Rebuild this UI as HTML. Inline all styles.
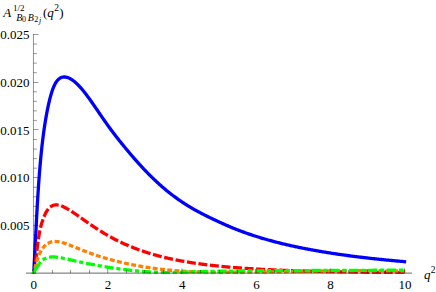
<!DOCTYPE html>
<html><head><meta charset="utf-8"><title>plot</title>
<style>html,body{margin:0;padding:0;background:#fff;font-family:"Liberation Serif",serif;}svg{display:block}</style>
</head><body>
<svg width="436" height="292" viewBox="0 0 436 292">
<rect width="436" height="292" fill="#fff"/>
<defs><clipPath id="c"><rect x="0" y="0" width="436" height="273.7"/></clipPath></defs>
<g clip-path="url(#c)" fill="none" stroke-width="3.3" stroke-linecap="square" stroke-linejoin="round">
<path d="M33.50,273.50 L33.50,273.50 L33.50,273.48 L33.51,273.46 L33.51,273.42 L33.52,273.38 L33.53,273.31 L33.54,273.24 L33.55,273.15 L33.56,273.04 L33.58,272.91 L33.59,272.76 L33.61,272.59 L33.63,272.40 L33.65,272.18 L33.67,271.94 L33.69,271.67 L33.72,271.38 L33.75,271.06 L33.77,270.71 L33.80,270.32 L33.83,269.91 L33.87,269.46 L33.90,268.98 L33.94,268.46 L33.97,267.91 L34.01,267.32 L34.05,266.69 L34.10,266.02 L34.14,265.32 L34.18,264.58 L34.23,263.80 L34.28,262.97 L34.33,262.11 L34.38,261.21 L34.43,260.27 L34.48,259.28 L34.54,258.26 L34.60,257.20 L34.65,256.09 L34.71,254.95 L34.78,253.77 L34.84,252.55 L34.90,251.29 L34.97,249.99 L35.04,248.66 L35.11,247.29 L35.18,245.88 L35.25,244.44 L35.32,242.97 L35.40,241.47 L35.47,239.93 L35.55,238.37 L35.63,236.78 L35.71,235.16 L35.80,233.51 L35.88,231.85 L35.97,230.15 L36.05,228.44 L36.14,226.71 L36.23,224.96 L36.33,223.19 L36.42,221.40 L36.51,219.60 L36.61,217.79 L36.71,215.97 L36.81,214.14 L36.91,212.30 L37.01,210.45 L37.12,208.60 L37.22,206.75 L37.33,204.89 L37.44,203.03 L37.55,201.18 L37.66,199.32 L37.77,197.47 L37.89,195.62 L38.00,193.77 L38.12,191.93 L38.24,190.10 L38.36,188.28 L38.48,186.47 L38.61,184.67 L38.73,182.87 L38.86,181.09 L38.99,179.33 L39.12,177.57 L39.25,175.83 L39.38,174.10 L39.51,172.39 L39.65,170.69 L39.79,169.01 L39.93,167.35 L40.07,165.70 L40.21,164.06 L40.35,162.44 L40.50,160.84 L40.64,159.25 L40.79,157.68 L40.94,156.13 L41.09,154.59 L41.25,153.06 L41.40,151.56 L41.56,150.06 L41.71,148.59 L41.87,147.12 L42.03,145.68 L42.19,144.25 L42.36,142.84 L42.52,141.44 L42.69,140.06 L42.86,138.70 L43.02,137.35 L43.20,136.02 L43.37,134.70 L43.54,133.40 L43.72,132.11 L43.89,130.84 L44.07,129.58 L44.25,128.34 L44.43,127.11 L44.62,125.89 L44.80,124.69 L44.99,123.50 L45.18,122.32 L45.36,121.16 L45.55,120.01 L45.75,118.87 L45.94,117.74 L46.14,116.62 L46.33,115.51 L46.53,114.42 L46.73,113.33 L46.93,112.26 L47.13,111.21 L47.34,110.16 L47.54,109.13 L47.75,108.11 L47.96,107.10 L48.17,106.11 L48.38,105.13 L48.60,104.16 L48.81,103.21 L49.03,102.27 L49.25,101.35 L49.46,100.44 L49.69,99.54 L49.91,98.66 L50.13,97.79 L50.36,96.94 L50.58,96.11 L50.81,95.29 L51.04,94.49 L51.27,93.70 L51.51,92.94 L51.74,92.19 L51.98,91.46 L52.22,90.75 L52.46,90.06 L52.70,89.38 L52.94,88.73 L53.18,88.10 L53.43,87.49 L53.67,86.90 L53.92,86.33 L54.17,85.77 L54.42,85.24 L54.68,84.73 L54.93,84.23 L55.19,83.76 L55.44,83.30 L55.70,82.86 L55.96,82.44 L56.23,82.03 L56.49,81.65 L56.75,81.28 L57.02,80.93 L57.29,80.59 L57.56,80.28 L57.83,79.98 L58.10,79.69 L58.38,79.42 L58.65,79.17 L58.93,78.93 L59.21,78.71 L59.49,78.50 L59.77,78.31 L60.05,78.13 L60.34,77.97 L60.62,77.82 L60.91,77.68 L61.20,77.55 L61.49,77.44 L61.78,77.34 L62.08,77.26 L62.37,77.18 L62.67,77.12 L62.97,77.07 L63.27,77.03 L63.57,77.00 L63.87,76.98 L64.18,76.97 L64.48,76.98 L64.79,76.99 L65.10,77.01 L65.41,77.04 L65.72,77.09 L66.04,77.14 L66.35,77.20 L66.67,77.28 L66.99,77.36 L67.31,77.45 L67.63,77.55 L67.95,77.66 L68.27,77.79 L68.60,77.92 L68.93,78.06 L69.26,78.21 L69.59,78.37 L69.92,78.53 L70.25,78.71 L70.59,78.90 L70.92,79.10 L71.26,79.30 L71.60,79.52 L71.94,79.74 L72.28,79.97 L72.63,80.21 L72.97,80.46 L73.32,80.72 L73.67,80.99 L74.02,81.26 L74.37,81.55 L74.72,81.84 L75.08,82.14 L75.43,82.45 L75.79,82.77 L76.15,83.10 L76.51,83.43 L76.87,83.78 L77.24,84.13 L77.60,84.49 L77.97,84.85 L78.34,85.23 L78.71,85.61 L79.08,86.00 L79.45,86.40 L79.82,86.80 L80.20,87.22 L80.58,87.64 L80.96,88.07 L81.34,88.50 L81.72,88.94 L82.10,89.39 L82.49,89.85 L82.87,90.32 L83.26,90.79 L83.65,91.27 L84.04,91.75 L84.44,92.24 L84.83,92.74 L85.23,93.25 L85.62,93.76 L86.02,94.28 L86.42,94.80 L86.82,95.34 L87.23,95.88 L87.63,96.42 L88.04,96.97 L88.44,97.53 L88.85,98.09 L89.26,98.66 L89.68,99.23 L90.09,99.81 L90.51,100.40 L90.92,100.99 L91.34,101.58 L91.76,102.18 L92.18,102.78 L92.61,103.39 L93.03,104.00 L93.46,104.62 L93.88,105.24 L94.31,105.86 L94.74,106.48 L95.18,107.11 L95.61,107.75 L96.04,108.38 L96.48,109.02 L96.92,109.66 L97.36,110.30 L97.80,110.95 L98.24,111.60 L98.69,112.25 L99.13,112.90 L99.58,113.55 L100.03,114.21 L100.48,114.86 L100.93,115.52 L101.38,116.18 L101.84,116.84 L102.29,117.50 L102.75,118.16 L103.21,118.82 L103.67,119.48 L104.13,120.15 L104.60,120.81 L105.06,121.47 L105.53,122.14 L106.00,122.80 L106.47,123.46 L106.94,124.12 L107.41,124.79 L107.89,125.45 L108.37,126.11 L108.84,126.77 L109.32,127.43 L109.80,128.08 L110.28,128.74 L110.77,129.40 L111.25,130.05 L111.74,130.71 L112.23,131.36 L112.72,132.01 L113.21,132.66 L113.70,133.31 L114.20,133.96 L114.69,134.61 L115.19,135.26 L115.69,135.90 L116.19,136.55 L116.69,137.19 L117.19,137.84 L117.70,138.48 L118.21,139.13 L118.71,139.77 L119.22,140.41 L119.73,141.05 L120.25,141.70 L120.76,142.34 L121.28,142.98 L121.79,143.62 L122.31,144.26 L122.83,144.90 L123.35,145.54 L123.88,146.18 L124.40,146.82 L124.93,147.46 L125.46,148.09 L125.98,148.73 L126.52,149.37 L127.05,150.01 L127.58,150.65 L128.12,151.28 L128.65,151.92 L129.19,152.56 L129.73,153.20 L130.27,153.83 L130.82,154.47 L131.36,155.11 L131.91,155.74 L132.45,156.38 L133.00,157.02 L133.55,157.65 L134.11,158.29 L134.66,158.92 L135.21,159.56 L135.77,160.19 L136.33,160.82 L136.89,161.45 L137.45,162.08 L138.01,162.71 L138.58,163.34 L139.14,163.97 L139.71,164.59 L140.28,165.22 L140.85,165.84 L141.42,166.46 L141.99,167.08 L142.57,167.70 L143.14,168.31 L143.72,168.93 L144.30,169.54 L144.88,170.15 L145.46,170.76 L146.05,171.37 L146.63,171.98 L147.22,172.58 L147.81,173.19 L148.40,173.79 L148.99,174.38 L149.58,174.98 L150.18,175.57 L150.77,176.16 L151.37,176.75 L151.97,177.34 L152.57,177.93 L153.17,178.51 L153.78,179.09 L154.38,179.67 L154.99,180.24 L155.60,180.81 L156.21,181.38 L156.82,181.95 L157.43,182.52 L158.05,183.08 L158.66,183.64 L159.28,184.19 L159.90,184.75 L160.52,185.30 L161.14,185.85 L161.76,186.39 L162.39,186.94 L163.01,187.48 L163.64,188.02 L164.27,188.55 L164.90,189.08 L165.54,189.61 L166.17,190.14 L166.81,190.66 L167.44,191.18 L168.08,191.70 L168.72,192.21 L169.36,192.72 L170.01,193.23 L170.65,193.74 L171.30,194.24 L171.94,194.74 L172.59,195.23 L173.24,195.73 L173.90,196.22 L174.55,196.70 L175.21,197.19 L175.86,197.67 L176.52,198.15 L177.18,198.62 L177.84,199.09 L178.50,199.56 L179.17,200.02 L179.84,200.49 L180.50,200.95 L181.17,201.40 L181.84,201.85 L182.51,202.30 L183.19,202.75 L183.86,203.19 L184.54,203.63 L185.22,204.07 L185.90,204.50 L186.58,204.93 L187.26,205.36 L187.94,205.79 L188.63,206.21 L189.32,206.63 L190.01,207.04 L190.70,207.45 L191.39,207.86 L192.08,208.27 L192.78,208.67 L193.47,209.07 L194.17,209.46 L194.87,209.86 L195.57,210.25 L196.27,210.64 L196.98,211.02 L197.68,211.41 L198.39,211.79 L199.10,212.17 L199.81,212.54 L200.52,212.92 L201.23,213.29 L201.95,213.66 L202.66,214.03 L203.38,214.39 L204.10,214.76 L204.82,215.12 L205.54,215.48 L206.27,215.84 L206.99,216.20 L207.72,216.56 L208.45,216.92 L209.17,217.27 L209.91,217.63 L210.64,217.98 L211.37,218.33 L212.11,218.69 L212.85,219.04 L213.58,219.39 L214.33,219.74 L215.07,220.08 L215.81,220.43 L216.56,220.78 L217.30,221.13 L218.05,221.47 L218.80,221.82 L219.55,222.16 L220.30,222.51 L221.06,222.85 L221.81,223.19 L222.57,223.54 L223.33,223.88 L224.09,224.21 L224.85,224.55 L225.61,224.89 L226.38,225.22 L227.14,225.56 L227.91,225.89 L228.68,226.22 L229.45,226.55 L230.22,226.88 L231.00,227.20 L231.77,227.53 L232.55,227.85 L233.33,228.17 L234.11,228.48 L234.89,228.80 L235.67,229.11 L236.46,229.42 L237.24,229.73 L238.03,230.04 L238.82,230.34 L239.61,230.64 L240.40,230.94 L241.19,231.24 L241.99,231.54 L242.79,231.83 L243.58,232.12 L244.38,232.41 L245.18,232.70 L245.99,232.98 L246.79,233.27 L247.60,233.55 L248.40,233.83 L249.21,234.11 L250.02,234.38 L250.83,234.66 L251.65,234.93 L252.46,235.20 L253.28,235.47 L254.10,235.73 L254.92,236.00 L255.74,236.26 L256.56,236.52 L257.38,236.78 L258.21,237.04 L259.03,237.29 L259.86,237.55 L260.69,237.80 L261.52,238.05 L262.36,238.30 L263.19,238.54 L264.03,238.79 L264.87,239.03 L265.70,239.27 L266.54,239.51 L267.39,239.75 L268.23,239.99 L269.08,240.22 L269.92,240.46 L270.77,240.69 L271.62,240.92 L272.47,241.15 L273.32,241.38 L274.18,241.60 L275.03,241.83 L275.89,242.05 L276.75,242.27 L277.61,242.49 L278.47,242.71 L279.34,242.92 L280.20,243.14 L281.07,243.35 L281.93,243.57 L282.80,243.78 L283.67,243.99 L284.55,244.19 L285.42,244.40 L286.30,244.60 L287.17,244.81 L288.05,245.01 L288.93,245.21 L289.81,245.41 L290.70,245.61 L291.58,245.81 L292.47,246.00 L293.36,246.20 L294.24,246.39 L295.13,246.58 L296.03,246.77 L296.92,246.96 L297.82,247.15 L298.71,247.34 L299.61,247.52 L300.51,247.70 L301.41,247.89 L302.31,248.07 L303.22,248.25 L304.13,248.43 L305.03,248.61 L305.94,248.78 L306.85,248.96 L307.76,249.13 L308.68,249.31 L309.59,249.48 L310.51,249.65 L311.43,249.82 L312.35,249.99 L313.27,250.16 L314.19,250.32 L315.11,250.49 L316.04,250.65 L316.97,250.82 L317.90,250.98 L318.83,251.14 L319.76,251.30 L320.69,251.46 L321.63,251.61 L322.56,251.77 L323.50,251.93 L324.44,252.08 L325.38,252.24 L326.32,252.39 L327.27,252.54 L328.21,252.69 L329.16,252.84 L330.11,252.99 L331.06,253.14 L332.01,253.28 L332.96,253.43 L333.91,253.57 L334.87,253.72 L335.83,253.86 L336.79,254.00 L337.75,254.14 L338.71,254.28 L339.67,254.42 L340.64,254.56 L341.60,254.70 L342.57,254.83 L343.54,254.97 L344.51,255.10 L345.49,255.24 L346.46,255.37 L347.44,255.50 L348.41,255.63 L349.39,255.76 L350.37,255.89 L351.35,256.02 L352.34,256.15 L353.32,256.27 L354.31,256.40 L355.30,256.52 L356.29,256.65 L357.28,256.77 L358.27,256.89 L359.26,257.02 L360.26,257.14 L361.26,257.26 L362.25,257.38 L363.25,257.49 L364.26,257.61 L365.26,257.73 L366.26,257.85 L367.27,257.96 L368.28,258.08 L369.29,258.19 L370.30,258.30 L371.31,258.42 L372.32,258.53 L373.34,258.64 L374.35,258.75 L375.37,258.86 L376.39,258.97 L377.41,259.07 L378.44,259.18 L379.46,259.29 L380.49,259.39 L381.51,259.50 L382.54,259.60 L383.57,259.71 L384.61,259.81 L385.64,259.91 L386.67,260.02 L387.71,260.12 L388.75,260.22 L389.79,260.32 L390.83,260.42 L391.87,260.51 L392.92,260.61 L393.96,260.71 L395.01,260.81 L396.06,260.90 L397.11,261.00 L398.16,261.09 L399.21,261.19 L400.27,261.28 L401.32,261.37 L402.38,261.46 L403.44,261.55 L404.50,261.65" stroke="#0000ff"/>
<path d="M33.50,273.50 L33.50,273.50 L33.50,273.50 L33.51,273.50 L33.51,273.49 L33.52,273.49 L33.53,273.48 L33.54,273.48 L33.55,273.47 L33.56,273.45 L33.58,273.44 L33.59,273.42 L33.61,273.40 L33.63,273.37 L33.65,273.34 L33.67,273.30 L33.69,273.26 L33.72,273.21 L33.75,273.15 L33.77,273.08 L33.80,273.01 L33.83,272.93 L33.87,272.83 L33.90,272.73 L33.94,272.61 L33.97,272.48 L34.01,272.34 L34.05,272.18 L34.10,272.01 L34.14,271.83 L34.18,271.62 L34.23,271.40 L34.28,271.16 L34.33,270.91 L34.38,270.63 L34.43,270.33 L34.48,270.02 L34.54,269.68 L34.60,269.32 L34.65,268.94 L34.71,268.54 L34.78,268.12 L34.84,267.67 L34.90,267.21 L34.97,266.72 L35.04,266.20 L35.11,265.67 L35.18,265.11 L35.25,264.53 L35.32,263.93 L35.40,263.31 L35.47,262.67 L35.55,262.00 L35.63,261.32 L35.71,260.62 L35.80,259.91 L35.88,259.17 L35.97,258.42 L36.05,257.66 L36.14,256.88 L36.23,256.09 L36.33,255.28 L36.42,254.47 L36.51,253.64 L36.61,252.81 L36.71,251.97 L36.81,251.12 L36.91,250.27 L37.01,249.42 L37.12,248.56 L37.22,247.70 L37.33,246.84 L37.44,245.98 L37.55,245.13 L37.66,244.27 L37.77,243.42 L37.89,242.58 L38.00,241.74 L38.12,240.91 L38.24,240.08 L38.36,239.27 L38.48,238.46 L38.61,237.66 L38.73,236.88 L38.86,236.10 L38.99,235.34 L39.12,234.59 L39.25,233.85 L39.38,233.12 L39.51,232.41 L39.65,231.71 L39.79,231.02 L39.93,230.35 L40.07,229.69 L40.21,229.04 L40.35,228.41 L40.50,227.79 L40.64,227.18 L40.79,226.58 L40.94,226.00 L41.09,225.43 L41.25,224.87 L41.40,224.32 L41.56,223.78 L41.71,223.25 L41.87,222.73 L42.03,222.22 L42.19,221.71 L42.36,221.22 L42.52,220.72 L42.69,220.24 L42.86,219.76 L43.02,219.29 L43.20,218.82 L43.37,218.36 L43.54,217.90 L43.72,217.45 L43.89,217.01 L44.07,216.57 L44.25,216.14 L44.43,215.72 L44.62,215.30 L44.80,214.89 L44.99,214.49 L45.18,214.10 L45.36,213.71 L45.55,213.33 L45.75,212.96 L45.94,212.60 L46.14,212.24 L46.33,211.90 L46.53,211.56 L46.73,211.23 L46.93,210.90 L47.13,210.59 L47.34,210.29 L47.54,209.99 L47.75,209.70 L47.96,209.42 L48.17,209.15 L48.38,208.89 L48.60,208.64 L48.81,208.40 L49.03,208.16 L49.25,207.94 L49.46,207.72 L49.69,207.51 L49.91,207.31 L50.13,207.12 L50.36,206.94 L50.58,206.76 L50.81,206.60 L51.04,206.44 L51.27,206.29 L51.51,206.15 L51.74,206.01 L51.98,205.89 L52.22,205.77 L52.46,205.66 L52.70,205.56 L52.94,205.47 L53.18,205.38 L53.43,205.30 L53.67,205.23 L53.92,205.17 L54.17,205.11 L54.42,205.06 L54.68,205.02 L54.93,204.99 L55.19,204.96 L55.44,204.94 L55.70,204.92 L55.96,204.92 L56.23,204.92 L56.49,204.92 L56.75,204.93 L57.02,204.95 L57.29,204.98 L57.56,205.01 L57.83,205.04 L58.10,205.09 L58.38,205.14 L58.65,205.19 L58.93,205.25 L59.21,205.31 L59.49,205.38 L59.77,205.46 L60.05,205.54 L60.34,205.63 L60.62,205.72 L60.91,205.81 L61.20,205.91 L61.49,206.02 L61.78,206.13 L62.08,206.24 L62.37,206.36 L62.67,206.48 L62.97,206.61 L63.27,206.74 L63.57,206.88 L63.87,207.02 L64.18,207.16 L64.48,207.31 L64.79,207.46 L65.10,207.62 L65.41,207.78 L65.72,207.94 L66.04,208.10 L66.35,208.27 L66.67,208.45 L66.99,208.62 L67.31,208.81 L67.63,208.99 L67.95,209.18 L68.27,209.37 L68.60,209.56 L68.93,209.76 L69.26,209.95 L69.59,210.16 L69.92,210.36 L70.25,210.57 L70.59,210.78 L70.92,211.00 L71.26,211.21 L71.60,211.43 L71.94,211.65 L72.28,211.88 L72.63,212.10 L72.97,212.33 L73.32,212.56 L73.67,212.80 L74.02,213.03 L74.37,213.27 L74.72,213.51 L75.08,213.75 L75.43,213.99 L75.79,214.24 L76.15,214.49 L76.51,214.74 L76.87,214.99 L77.24,215.24 L77.60,215.50 L77.97,215.75 L78.34,216.01 L78.71,216.27 L79.08,216.53 L79.45,216.79 L79.82,217.06 L80.20,217.32 L80.58,217.59 L80.96,217.86 L81.34,218.12 L81.72,218.39 L82.10,218.67 L82.49,218.94 L82.87,219.21 L83.26,219.48 L83.65,219.76 L84.04,220.03 L84.44,220.31 L84.83,220.59 L85.23,220.87 L85.62,221.15 L86.02,221.43 L86.42,221.71 L86.82,221.99 L87.23,222.27 L87.63,222.55 L88.04,222.83 L88.44,223.11 L88.85,223.40 L89.26,223.68 L89.68,223.96 L90.09,224.25 L90.51,224.53 L90.92,224.82 L91.34,225.10 L91.76,225.39 L92.18,225.67 L92.61,225.96 L93.03,226.24 L93.46,226.53 L93.88,226.81 L94.31,227.10 L94.74,227.38 L95.18,227.67 L95.61,227.95 L96.04,228.24 L96.48,228.52 L96.92,228.80 L97.36,229.09 L97.80,229.37 L98.24,229.66 L98.69,229.94 L99.13,230.22 L99.58,230.50 L100.03,230.79 L100.48,231.07 L100.93,231.35 L101.38,231.63 L101.84,231.91 L102.29,232.19 L102.75,232.47 L103.21,232.74 L103.67,233.02 L104.13,233.30 L104.60,233.57 L105.06,233.85 L105.53,234.13 L106.00,234.40 L106.47,234.67 L106.94,234.95 L107.41,235.22 L107.89,235.49 L108.37,235.76 L108.84,236.03 L109.32,236.30 L109.80,236.57 L110.28,236.83 L110.77,237.10 L111.25,237.37 L111.74,237.63 L112.23,237.89 L112.72,238.16 L113.21,238.42 L113.70,238.68 L114.20,238.94 L114.69,239.20 L115.19,239.46 L115.69,239.71 L116.19,239.97 L116.69,240.22 L117.19,240.48 L117.70,240.73 L118.21,240.98 L118.71,241.23 L119.22,241.48 L119.73,241.73 L120.25,241.98 L120.76,242.22 L121.28,242.47 L121.79,242.71 L122.31,242.95 L122.83,243.20 L123.35,243.44 L123.88,243.68 L124.40,243.91 L124.93,244.15 L125.46,244.39 L125.98,244.62 L126.52,244.85 L127.05,245.09 L127.58,245.32 L128.12,245.55 L128.65,245.78 L129.19,246.00 L129.73,246.23 L130.27,246.45 L130.82,246.68 L131.36,246.90 L131.91,247.12 L132.45,247.34 L133.00,247.56 L133.55,247.78 L134.11,247.99 L134.66,248.21 L135.21,248.42 L135.77,248.63 L136.33,248.85 L136.89,249.06 L137.45,249.26 L138.01,249.47 L138.58,249.68 L139.14,249.88 L139.71,250.09 L140.28,250.29 L140.85,250.49 L141.42,250.69 L141.99,250.89 L142.57,251.08 L143.14,251.28 L143.72,251.48 L144.30,251.67 L144.88,251.86 L145.46,252.05 L146.05,252.24 L146.63,252.43 L147.22,252.62 L147.81,252.80 L148.40,252.99 L148.99,253.17 L149.58,253.35 L150.18,253.53 L150.77,253.71 L151.37,253.89 L151.97,254.07 L152.57,254.24 L153.17,254.42 L153.78,254.59 L154.38,254.76 L154.99,254.93 L155.60,255.10 L156.21,255.27 L156.82,255.44 L157.43,255.60 L158.05,255.77 L158.66,255.93 L159.28,256.09 L159.90,256.25 L160.52,256.41 L161.14,256.57 L161.76,256.73 L162.39,256.89 L163.01,257.04 L163.64,257.20 L164.27,257.35 L164.90,257.50 L165.54,257.65 L166.17,257.80 L166.81,257.95 L167.44,258.09 L168.08,258.24 L168.72,258.38 L169.36,258.53 L170.01,258.67 L170.65,258.81 L171.30,258.95 L171.94,259.09 L172.59,259.23 L173.24,259.36 L173.90,259.50 L174.55,259.63 L175.21,259.77 L175.86,259.90 L176.52,260.03 L177.18,260.16 L177.84,260.29 L178.50,260.42 L179.17,260.54 L179.84,260.67 L180.50,260.79 L181.17,260.92 L181.84,261.04 L182.51,261.16 L183.19,261.28 L183.86,261.40 L184.54,261.52 L185.22,261.64 L185.90,261.75 L186.58,261.87 L187.26,261.98 L187.94,262.10 L188.63,262.21 L189.32,262.32 L190.01,262.43 L190.70,262.54 L191.39,262.65 L192.08,262.76 L192.78,262.86 L193.47,262.97 L194.17,263.07 L194.87,263.18 L195.57,263.28 L196.27,263.38 L196.98,263.48 L197.68,263.58 L198.39,263.68 L199.10,263.78 L199.81,263.88 L200.52,263.98 L201.23,264.07 L201.95,264.17 L202.66,264.26 L203.38,264.35 L204.10,264.45 L204.82,264.54 L205.54,264.63 L206.27,264.72 L206.99,264.81 L207.72,264.90 L208.45,264.98 L209.17,265.07 L209.91,265.15 L210.64,265.24 L211.37,265.32 L212.11,265.41 L212.85,265.49 L213.58,265.57 L214.33,265.65 L215.07,265.73 L215.81,265.81 L216.56,265.89 L217.30,265.97 L218.05,266.05 L218.80,266.12 L219.55,266.20 L220.30,266.27 L221.06,266.35 L221.81,266.42 L222.57,266.49 L223.33,266.57 L224.09,266.64 L224.85,266.71 L225.61,266.78 L226.38,266.85 L227.14,266.92 L227.91,266.99 L228.68,267.05 L229.45,267.12 L230.22,267.19 L231.00,267.25 L231.77,267.32 L232.55,267.38 L233.33,267.44 L234.11,267.51 L234.89,267.57 L235.67,267.63 L236.46,267.69 L237.24,267.75 L238.03,267.81 L238.82,267.87 L239.61,267.93 L240.40,267.99 L241.19,268.05 L241.99,268.10 L242.79,268.16 L243.58,268.22 L244.38,268.27 L245.18,268.33 L245.99,268.38 L246.79,268.43 L247.60,268.49 L248.40,268.54 L249.21,268.59 L250.02,268.64 L250.83,268.69 L251.65,268.74 L252.46,268.79 L253.28,268.84 L254.10,268.89 L254.92,268.94 L255.74,268.99 L256.56,269.04 L257.38,269.08 L258.21,269.13 L259.03,269.18 L259.86,269.22 L260.69,269.27 L261.52,269.31 L262.36,269.36 L263.19,269.40 L264.03,269.44 L264.87,269.49 L265.70,269.53 L266.54,269.57 L267.39,269.61 L268.23,269.65 L269.08,269.69 L269.92,269.73 L270.77,269.77 L271.62,269.81 L272.47,269.85 L273.32,269.89 L274.18,269.93 L275.03,269.97 L275.89,270.00 L276.75,270.04 L277.61,270.08 L278.47,270.11 L279.34,270.15 L280.20,270.18 L281.07,270.22 L281.93,270.25 L282.80,270.29 L283.67,270.32 L284.55,270.36 L285.42,270.39 L286.30,270.42 L287.17,270.46 L288.05,270.49 L288.93,270.52 L289.81,270.55 L290.70,270.58 L291.58,270.61 L292.47,270.64 L293.36,270.67 L294.24,270.70 L295.13,270.73 L296.03,270.76 L296.92,270.79 L297.82,270.82 L298.71,270.85 L299.61,270.88 L300.51,270.91 L301.41,270.93 L302.31,270.96 L303.22,270.99 L304.13,271.01 L305.03,271.04 L305.94,271.07 L306.85,271.09 L307.76,271.12 L308.68,271.14 L309.59,271.17 L310.51,271.19 L311.43,271.22 L312.35,271.24 L313.27,271.26 L314.19,271.29 L315.11,271.31 L316.04,271.33 L316.97,271.36 L317.90,271.38 L318.83,271.40 L319.76,271.42 L320.69,271.45 L321.63,271.47 L322.56,271.49 L323.50,271.51 L324.44,271.53 L325.38,271.55 L326.32,271.57 L327.27,271.59 L328.21,271.61 L329.16,271.63 L330.11,271.65 L331.06,271.67 L332.01,271.69 L332.96,271.71 L333.91,271.73 L334.87,271.75 L335.83,271.77 L336.79,271.78 L337.75,271.80 L338.71,271.82 L339.67,271.84 L340.64,271.86 L341.60,271.87 L342.57,271.89 L343.54,271.91 L344.51,271.92 L345.49,271.94 L346.46,271.96 L347.44,271.97 L348.41,271.99 L349.39,272.00 L350.37,272.02 L351.35,272.04 L352.34,272.05 L353.32,272.07 L354.31,272.08 L355.30,272.10 L356.29,272.11 L357.28,272.12 L358.27,272.14 L359.26,272.15 L360.26,272.17 L361.26,272.18 L362.25,272.19 L363.25,272.21 L364.26,272.22 L365.26,272.24 L366.26,272.25 L367.27,272.26 L368.28,272.27 L369.29,272.29 L370.30,272.30 L371.31,272.31 L372.32,272.32 L373.34,272.34 L374.35,272.35 L375.37,272.36 L376.39,272.37 L377.41,272.38 L378.44,272.39 L379.46,272.41 L380.49,272.42 L381.51,272.43 L382.54,272.44 L383.57,272.45 L384.61,272.46 L385.64,272.47 L386.67,272.48 L387.71,272.49 L388.75,272.50 L389.79,272.51 L390.83,272.52 L391.87,272.53 L392.92,272.54 L393.96,272.55 L395.01,272.56 L396.06,272.57 L397.11,272.58 L398.16,272.59 L399.21,272.60 L400.27,272.61 L401.32,272.62 L402.38,272.63 L403.44,272.64 L404.50,272.64" stroke="#ff0000" stroke-dasharray="5.7,5.9" stroke-dashoffset="-1.6"/>
<path d="M33.50,273.50 L33.50,273.50 L33.50,273.49 L33.51,273.47 L33.51,273.44 L33.52,273.41 L33.53,273.37 L33.54,273.32 L33.55,273.27 L33.56,273.21 L33.58,273.14 L33.59,273.06 L33.61,272.98 L33.63,272.89 L33.65,272.79 L33.67,272.69 L33.69,272.58 L33.72,272.47 L33.75,272.34 L33.77,272.21 L33.80,272.08 L33.83,271.94 L33.87,271.79 L33.90,271.64 L33.94,271.48 L33.97,271.31 L34.01,271.14 L34.05,270.96 L34.10,270.78 L34.14,270.59 L34.18,270.40 L34.23,270.20 L34.28,269.99 L34.33,269.78 L34.38,269.57 L34.43,269.35 L34.48,269.13 L34.54,268.90 L34.60,268.67 L34.65,268.43 L34.71,268.19 L34.78,267.94 L34.84,267.70 L34.90,267.44 L34.97,267.19 L35.04,266.93 L35.11,266.66 L35.18,266.40 L35.25,266.13 L35.32,265.85 L35.40,265.58 L35.47,265.30 L35.55,265.02 L35.63,264.73 L35.71,264.44 L35.80,264.16 L35.88,263.86 L35.97,263.57 L36.05,263.28 L36.14,262.98 L36.23,262.68 L36.33,262.38 L36.42,262.08 L36.51,261.78 L36.61,261.48 L36.71,261.17 L36.81,260.87 L36.91,260.56 L37.01,260.25 L37.12,259.95 L37.22,259.64 L37.33,259.33 L37.44,259.03 L37.55,258.72 L37.66,258.41 L37.77,258.10 L37.89,257.80 L38.00,257.49 L38.12,257.19 L38.24,256.88 L38.36,256.58 L38.48,256.27 L38.61,255.97 L38.73,255.67 L38.86,255.37 L38.99,255.07 L39.12,254.78 L39.25,254.48 L39.38,254.19 L39.51,253.90 L39.65,253.61 L39.79,253.32 L39.93,253.04 L40.07,252.75 L40.21,252.47 L40.35,252.19 L40.50,251.92 L40.64,251.64 L40.79,251.37 L40.94,251.10 L41.09,250.84 L41.25,250.57 L41.40,250.31 L41.56,250.06 L41.71,249.80 L41.87,249.55 L42.03,249.30 L42.19,249.06 L42.36,248.82 L42.52,248.58 L42.69,248.35 L42.86,248.11 L43.02,247.89 L43.20,247.66 L43.37,247.44 L43.54,247.23 L43.72,247.01 L43.89,246.80 L44.07,246.60 L44.25,246.40 L44.43,246.20 L44.62,246.00 L44.80,245.81 L44.99,245.63 L45.18,245.45 L45.36,245.27 L45.55,245.09 L45.75,244.92 L45.94,244.76 L46.14,244.60 L46.33,244.44 L46.53,244.29 L46.73,244.14 L46.93,243.99 L47.13,243.85 L47.34,243.71 L47.54,243.58 L47.75,243.45 L47.96,243.33 L48.17,243.21 L48.38,243.09 L48.60,242.98 L48.81,242.87 L49.03,242.77 L49.25,242.67 L49.46,242.57 L49.69,242.48 L49.91,242.40 L50.13,242.31 L50.36,242.24 L50.58,242.16 L50.81,242.09 L51.04,242.03 L51.27,241.96 L51.51,241.91 L51.74,241.85 L51.98,241.80 L52.22,241.76 L52.46,241.71 L52.70,241.67 L52.94,241.64 L53.18,241.61 L53.43,241.58 L53.67,241.56 L53.92,241.54 L54.17,241.53 L54.42,241.51 L54.68,241.51 L54.93,241.50 L55.19,241.50 L55.44,241.51 L55.70,241.51 L55.96,241.52 L56.23,241.54 L56.49,241.55 L56.75,241.57 L57.02,241.60 L57.29,241.62 L57.56,241.65 L57.83,241.69 L58.10,241.72 L58.38,241.76 L58.65,241.81 L58.93,241.85 L59.21,241.90 L59.49,241.95 L59.77,242.01 L60.05,242.07 L60.34,242.13 L60.62,242.19 L60.91,242.26 L61.20,242.33 L61.49,242.40 L61.78,242.47 L62.08,242.55 L62.37,242.63 L62.67,242.71 L62.97,242.80 L63.27,242.88 L63.57,242.97 L63.87,243.06 L64.18,243.16 L64.48,243.25 L64.79,243.35 L65.10,243.45 L65.41,243.55 L65.72,243.66 L66.04,243.77 L66.35,243.87 L66.67,243.98 L66.99,244.10 L67.31,244.21 L67.63,244.33 L67.95,244.44 L68.27,244.56 L68.60,244.68 L68.93,244.80 L69.26,244.93 L69.59,245.05 L69.92,245.18 L70.25,245.31 L70.59,245.44 L70.92,245.57 L71.26,245.70 L71.60,245.84 L71.94,245.97 L72.28,246.11 L72.63,246.24 L72.97,246.38 L73.32,246.52 L73.67,246.66 L74.02,246.80 L74.37,246.94 L74.72,247.09 L75.08,247.23 L75.43,247.37 L75.79,247.52 L76.15,247.66 L76.51,247.81 L76.87,247.96 L77.24,248.11 L77.60,248.26 L77.97,248.40 L78.34,248.55 L78.71,248.70 L79.08,248.85 L79.45,249.01 L79.82,249.16 L80.20,249.31 L80.58,249.46 L80.96,249.61 L81.34,249.77 L81.72,249.92 L82.10,250.07 L82.49,250.23 L82.87,250.38 L83.26,250.53 L83.65,250.69 L84.04,250.84 L84.44,250.99 L84.83,251.15 L85.23,251.30 L85.62,251.46 L86.02,251.61 L86.42,251.76 L86.82,251.92 L87.23,252.07 L87.63,252.22 L88.04,252.38 L88.44,252.53 L88.85,252.68 L89.26,252.83 L89.68,252.99 L90.09,253.14 L90.51,253.29 L90.92,253.44 L91.34,253.59 L91.76,253.74 L92.18,253.89 L92.61,254.04 L93.03,254.19 L93.46,254.34 L93.88,254.49 L94.31,254.64 L94.74,254.79 L95.18,254.93 L95.61,255.08 L96.04,255.23 L96.48,255.37 L96.92,255.52 L97.36,255.66 L97.80,255.81 L98.24,255.95 L98.69,256.10 L99.13,256.24 L99.58,256.39 L100.03,256.53 L100.48,256.67 L100.93,256.81 L101.38,256.95 L101.84,257.10 L102.29,257.24 L102.75,257.38 L103.21,257.52 L103.67,257.66 L104.13,257.80 L104.60,257.93 L105.06,258.07 L105.53,258.21 L106.00,258.35 L106.47,258.48 L106.94,258.62 L107.41,258.76 L107.89,258.89 L108.37,259.03 L108.84,259.16 L109.32,259.30 L109.80,259.43 L110.28,259.56 L110.77,259.70 L111.25,259.83 L111.74,259.96 L112.23,260.09 L112.72,260.22 L113.21,260.35 L113.70,260.48 L114.20,260.61 L114.69,260.74 L115.19,260.87 L115.69,261.00 L116.19,261.12 L116.69,261.25 L117.19,261.38 L117.70,261.50 L118.21,261.63 L118.71,261.75 L119.22,261.88 L119.73,262.00 L120.25,262.12 L120.76,262.25 L121.28,262.37 L121.79,262.49 L122.31,262.61 L122.83,262.73 L123.35,262.85 L123.88,262.97 L124.40,263.09 L124.93,263.20 L125.46,263.32 L125.98,263.44 L126.52,263.55 L127.05,263.67 L127.58,263.78 L128.12,263.90 L128.65,264.01 L129.19,264.12 L129.73,264.24 L130.27,264.35 L130.82,264.46 L131.36,264.57 L131.91,264.68 L132.45,264.79 L133.00,264.90 L133.55,265.00 L134.11,265.11 L134.66,265.22 L135.21,265.32 L135.77,265.43 L136.33,265.53 L136.89,265.64 L137.45,265.74 L138.01,265.84 L138.58,265.94 L139.14,266.04 L139.71,266.14 L140.28,266.24 L140.85,266.34 L141.42,266.44 L141.99,266.54 L142.57,266.63 L143.14,266.73 L143.72,266.83 L144.30,266.92 L144.88,267.01 L145.46,267.11 L146.05,267.20 L146.63,267.29 L147.22,267.38 L147.81,267.47 L148.40,267.56 L148.99,267.65 L149.58,267.74 L150.18,267.82 L150.77,267.91 L151.37,267.99 L151.97,268.08 L152.57,268.16 L153.17,268.24 L153.78,268.33 L154.38,268.41 L154.99,268.49 L155.60,268.57 L156.21,268.65 L156.82,268.73 L157.43,268.80 L158.05,268.88 L158.66,268.96 L159.28,269.03 L159.90,269.11 L160.52,269.18 L161.14,269.25 L161.76,269.32 L162.39,269.40 L163.01,269.47 L163.64,269.54 L164.27,269.61 L164.90,269.67 L165.54,269.74 L166.17,269.81 L166.81,269.87 L167.44,269.94 L168.08,270.00 L168.72,270.07 L169.36,270.13 L170.01,270.19 L170.65,270.25 L171.30,270.31 L171.94,270.37 L172.59,270.43 L173.24,270.49 L173.90,270.55 L174.55,270.60 L175.21,270.66 L175.86,270.71 L176.52,270.76 L177.18,270.81 L177.84,270.87 L178.50,270.92 L179.17,270.96 L179.84,271.01 L180.50,271.06 L181.17,271.10 L181.84,271.15 L182.51,271.19 L183.19,271.23 L183.86,271.28 L184.54,271.32 L185.22,271.36 L185.90,271.39 L186.58,271.43 L187.26,271.47 L187.94,271.50 L188.63,271.54 L189.32,271.57 L190.01,271.60 L190.70,271.63 L191.39,271.66 L192.08,271.69 L192.78,271.72 L193.47,271.75 L194.17,271.78 L194.87,271.80 L195.57,271.83 L196.27,271.85 L196.98,271.87 L197.68,271.90 L198.39,271.92 L199.10,271.94 L199.81,271.96 L200.52,271.98 L201.23,271.99 L201.95,272.01 L202.66,272.03 L203.38,272.04 L204.10,272.06 L204.82,272.07 L205.54,272.09 L206.27,272.10 L206.99,272.11 L207.72,272.12 L208.45,272.13 L209.17,272.15 L209.91,272.16 L210.64,272.17 L211.37,272.17 L212.11,272.18 L212.85,272.19 L213.58,272.20 L214.33,272.21 L215.07,272.21 L215.81,272.22 L216.56,272.22 L217.30,272.23 L218.05,272.24 L218.80,272.24 L219.55,272.24 L220.30,272.25 L221.06,272.25 L221.81,272.26 L222.57,272.26 L223.33,272.26 L224.09,272.26 L224.85,272.26 L225.61,272.27 L226.38,272.27 L227.14,272.27 L227.91,272.27 L228.68,272.27 L229.45,272.27 L230.22,272.27 L231.00,272.27 L231.77,272.27 L232.55,272.27 L233.33,272.27 L234.11,272.26 L234.89,272.26 L235.67,272.26 L236.46,272.26 L237.24,272.25 L238.03,272.25 L238.82,272.25 L239.61,272.24 L240.40,272.24 L241.19,272.24 L241.99,272.23 L242.79,272.23 L243.58,272.22 L244.38,272.22 L245.18,272.21 L245.99,272.21 L246.79,272.20 L247.60,272.20 L248.40,272.19 L249.21,272.18 L250.02,272.18 L250.83,272.17 L251.65,272.16 L252.46,272.16 L253.28,272.15 L254.10,272.14 L254.92,272.13 L255.74,272.12 L256.56,272.12 L257.38,272.11 L258.21,272.10 L259.03,272.09 L259.86,272.08 L260.69,272.07 L261.52,272.06 L262.36,272.05 L263.19,272.04 L264.03,272.03 L264.87,272.02 L265.70,272.01 L266.54,272.00 L267.39,271.99 L268.23,271.98 L269.08,271.97 L269.92,271.96 L270.77,271.94 L271.62,271.93 L272.47,271.92 L273.32,271.91 L274.18,271.90 L275.03,271.88 L275.89,271.87 L276.75,271.86 L277.61,271.85 L278.47,271.83 L279.34,271.82 L280.20,271.81 L281.07,271.79 L281.93,271.78 L282.80,271.77 L283.67,271.75 L284.55,271.74 L285.42,271.73 L286.30,271.71 L287.17,271.70 L288.05,271.68 L288.93,271.67 L289.81,271.65 L290.70,271.64 L291.58,271.62 L292.47,271.61 L293.36,271.59 L294.24,271.58 L295.13,271.56 L296.03,271.55 L296.92,271.53 L297.82,271.52 L298.71,271.50 L299.61,271.49 L300.51,271.47 L301.41,271.46 L302.31,271.44 L303.22,271.42 L304.13,271.41 L305.03,271.39 L305.94,271.38 L306.85,271.36 L307.76,271.35 L308.68,271.33 L309.59,271.31 L310.51,271.30 L311.43,271.28 L312.35,271.27 L313.27,271.25 L314.19,271.24 L315.11,271.22 L316.04,271.20 L316.97,271.19 L317.90,271.17 L318.83,271.16 L319.76,271.14 L320.69,271.13 L321.63,271.11 L322.56,271.10 L323.50,271.08 L324.44,271.07 L325.38,271.05 L326.32,271.04 L327.27,271.02 L328.21,271.01 L329.16,271.00 L330.11,270.98 L331.06,270.97 L332.01,270.96 L332.96,270.94 L333.91,270.93 L334.87,270.92 L335.83,270.91 L336.79,270.89 L337.75,270.88 L338.71,270.87 L339.67,270.86 L340.64,270.85 L341.60,270.84 L342.57,270.83 L343.54,270.82 L344.51,270.81 L345.49,270.80 L346.46,270.79 L347.44,270.78 L348.41,270.77 L349.39,270.77 L350.37,270.76 L351.35,270.75 L352.34,270.75 L353.32,270.74 L354.31,270.74 L355.30,270.73 L356.29,270.73 L357.28,270.72 L358.27,270.72 L359.26,270.72 L360.26,270.71 L361.26,270.71 L362.25,270.71 L363.25,270.71 L364.26,270.71 L365.26,270.71 L366.26,270.71 L367.27,270.71 L368.28,270.71 L369.29,270.72 L370.30,270.72 L371.31,270.72 L372.32,270.73 L373.34,270.73 L374.35,270.74 L375.37,270.74 L376.39,270.75 L377.41,270.76 L378.44,270.77 L379.46,270.77 L380.49,270.78 L381.51,270.79 L382.54,270.80 L383.57,270.81 L384.61,270.83 L385.64,270.84 L386.67,270.85 L387.71,270.86 L388.75,270.88 L389.79,270.89 L390.83,270.91 L391.87,270.92 L392.92,270.94 L393.96,270.96 L395.01,270.97 L396.06,270.99 L397.11,271.01 L398.16,271.03 L399.21,271.05 L400.27,271.07 L401.32,271.09 L402.38,271.11 L403.44,271.13 L404.50,271.15" stroke="#ff7f00" stroke-dasharray="1.6,5.69" stroke-dashoffset="0.78"/>
<path d="M33.50,273.50 L33.50,273.49 L33.50,273.46 L33.51,273.42 L33.51,273.36 L33.52,273.30 L33.53,273.23 L33.54,273.15 L33.55,273.08 L33.56,273.00 L33.58,272.92 L33.59,272.84 L33.61,272.76 L33.63,272.68 L33.65,272.60 L33.67,272.52 L33.69,272.44 L33.72,272.36 L33.75,272.29 L33.77,272.21 L33.80,272.14 L33.83,272.06 L33.87,271.99 L33.90,271.92 L33.94,271.85 L33.97,271.77 L34.01,271.70 L34.05,271.63 L34.10,271.56 L34.14,271.48 L34.18,271.41 L34.23,271.34 L34.28,271.26 L34.33,271.19 L34.38,271.11 L34.43,271.04 L34.48,270.96 L34.54,270.88 L34.60,270.80 L34.65,270.72 L34.71,270.63 L34.78,270.55 L34.84,270.46 L34.90,270.37 L34.97,270.28 L35.04,270.18 L35.11,270.09 L35.18,269.99 L35.25,269.89 L35.32,269.78 L35.40,269.68 L35.47,269.57 L35.55,269.46 L35.63,269.34 L35.71,269.22 L35.80,269.10 L35.88,268.98 L35.97,268.85 L36.05,268.72 L36.14,268.59 L36.23,268.45 L36.33,268.31 L36.42,268.17 L36.51,268.02 L36.61,267.87 L36.71,267.72 L36.81,267.56 L36.91,267.40 L37.01,267.24 L37.12,267.08 L37.22,266.91 L37.33,266.73 L37.44,266.56 L37.55,266.38 L37.66,266.20 L37.77,266.02 L37.89,265.83 L38.00,265.64 L38.12,265.46 L38.24,265.26 L38.36,265.07 L38.48,264.88 L38.61,264.68 L38.73,264.49 L38.86,264.29 L38.99,264.10 L39.12,263.90 L39.25,263.71 L39.38,263.52 L39.51,263.32 L39.65,263.14 L39.79,262.95 L39.93,262.77 L40.07,262.59 L40.21,262.41 L40.35,262.23 L40.50,262.06 L40.64,261.89 L40.79,261.72 L40.94,261.56 L41.09,261.40 L41.25,261.24 L41.40,261.09 L41.56,260.94 L41.71,260.79 L41.87,260.65 L42.03,260.51 L42.19,260.37 L42.36,260.24 L42.52,260.11 L42.69,259.98 L42.86,259.85 L43.02,259.73 L43.20,259.61 L43.37,259.50 L43.54,259.38 L43.72,259.27 L43.89,259.17 L44.07,259.06 L44.25,258.96 L44.43,258.86 L44.62,258.76 L44.80,258.66 L44.99,258.57 L45.18,258.48 L45.36,258.39 L45.55,258.31 L45.75,258.23 L45.94,258.15 L46.14,258.07 L46.33,257.99 L46.53,257.92 L46.73,257.85 L46.93,257.78 L47.13,257.72 L47.34,257.66 L47.54,257.60 L47.75,257.54 L47.96,257.49 L48.17,257.43 L48.38,257.38 L48.60,257.34 L48.81,257.29 L49.03,257.25 L49.25,257.21 L49.46,257.18 L49.69,257.14 L49.91,257.11 L50.13,257.08 L50.36,257.05 L50.58,257.03 L50.81,257.01 L51.04,256.99 L51.27,256.97 L51.51,256.96 L51.74,256.94 L51.98,256.93 L52.22,256.93 L52.46,256.92 L52.70,256.92 L52.94,256.92 L53.18,256.92 L53.43,256.92 L53.67,256.93 L53.92,256.93 L54.17,256.94 L54.42,256.95 L54.68,256.97 L54.93,256.98 L55.19,257.00 L55.44,257.02 L55.70,257.04 L55.96,257.07 L56.23,257.09 L56.49,257.12 L56.75,257.15 L57.02,257.18 L57.29,257.21 L57.56,257.24 L57.83,257.28 L58.10,257.32 L58.38,257.36 L58.65,257.40 L58.93,257.44 L59.21,257.48 L59.49,257.53 L59.77,257.57 L60.05,257.62 L60.34,257.67 L60.62,257.72 L60.91,257.78 L61.20,257.83 L61.49,257.88 L61.78,257.94 L62.08,258.00 L62.37,258.05 L62.67,258.11 L62.97,258.17 L63.27,258.24 L63.57,258.30 L63.87,258.36 L64.18,258.43 L64.48,258.49 L64.79,258.56 L65.10,258.63 L65.41,258.69 L65.72,258.76 L66.04,258.83 L66.35,258.90 L66.67,258.97 L66.99,259.05 L67.31,259.12 L67.63,259.19 L67.95,259.27 L68.27,259.34 L68.60,259.42 L68.93,259.49 L69.26,259.57 L69.59,259.64 L69.92,259.72 L70.25,259.80 L70.59,259.88 L70.92,259.96 L71.26,260.03 L71.60,260.11 L71.94,260.19 L72.28,260.27 L72.63,260.35 L72.97,260.43 L73.32,260.51 L73.67,260.59 L74.02,260.67 L74.37,260.76 L74.72,260.84 L75.08,260.92 L75.43,261.00 L75.79,261.08 L76.15,261.16 L76.51,261.24 L76.87,261.33 L77.24,261.41 L77.60,261.49 L77.97,261.57 L78.34,261.65 L78.71,261.73 L79.08,261.82 L79.45,261.90 L79.82,261.98 L80.20,262.06 L80.58,262.14 L80.96,262.22 L81.34,262.30 L81.72,262.38 L82.10,262.47 L82.49,262.55 L82.87,262.63 L83.26,262.71 L83.65,262.79 L84.04,262.87 L84.44,262.95 L84.83,263.03 L85.23,263.11 L85.62,263.19 L86.02,263.27 L86.42,263.35 L86.82,263.43 L87.23,263.51 L87.63,263.59 L88.04,263.67 L88.44,263.75 L88.85,263.83 L89.26,263.91 L89.68,263.99 L90.09,264.07 L90.51,264.15 L90.92,264.23 L91.34,264.30 L91.76,264.38 L92.18,264.46 L92.61,264.54 L93.03,264.62 L93.46,264.70 L93.88,264.78 L94.31,264.86 L94.74,264.94 L95.18,265.02 L95.61,265.10 L96.04,265.18 L96.48,265.26 L96.92,265.34 L97.36,265.41 L97.80,265.49 L98.24,265.57 L98.69,265.65 L99.13,265.73 L99.58,265.81 L100.03,265.89 L100.48,265.96 L100.93,266.04 L101.38,266.12 L101.84,266.20 L102.29,266.28 L102.75,266.35 L103.21,266.43 L103.67,266.51 L104.13,266.59 L104.60,266.66 L105.06,266.74 L105.53,266.82 L106.00,266.90 L106.47,266.97 L106.94,267.05 L107.41,267.13 L107.89,267.20 L108.37,267.28 L108.84,267.35 L109.32,267.43 L109.80,267.50 L110.28,267.58 L110.77,267.65 L111.25,267.73 L111.74,267.80 L112.23,267.88 L112.72,267.95 L113.21,268.03 L113.70,268.10 L114.20,268.17 L114.69,268.24 L115.19,268.32 L115.69,268.39 L116.19,268.46 L116.69,268.53 L117.19,268.60 L117.70,268.67 L118.21,268.74 L118.71,268.81 L119.22,268.88 L119.73,268.95 L120.25,269.02 L120.76,269.09 L121.28,269.16 L121.79,269.23 L122.31,269.29 L122.83,269.36 L123.35,269.43 L123.88,269.49 L124.40,269.56 L124.93,269.62 L125.46,269.69 L125.98,269.75 L126.52,269.81 L127.05,269.88 L127.58,269.94 L128.12,270.00 L128.65,270.06 L129.19,270.12 L129.73,270.18 L130.27,270.24 L130.82,270.30 L131.36,270.36 L131.91,270.42 L132.45,270.48 L133.00,270.54 L133.55,270.59 L134.11,270.65 L134.66,270.70 L135.21,270.76 L135.77,270.81 L136.33,270.87 L136.89,270.92 L137.45,270.97 L138.01,271.02 L138.58,271.07 L139.14,271.13 L139.71,271.18 L140.28,271.22 L140.85,271.27 L141.42,271.32 L141.99,271.37 L142.57,271.42 L143.14,271.46 L143.72,271.51 L144.30,271.55 L144.88,271.60 L145.46,271.64 L146.05,271.68 L146.63,271.73 L147.22,271.77 L147.81,271.81 L148.40,271.85 L148.99,271.89 L149.58,271.93 L150.18,271.96 L150.77,272.00 L151.37,272.04 L151.97,272.07 L152.57,272.10 L153.17,272.14 L153.78,272.17 L154.38,272.20 L154.99,272.22 L155.60,272.25 L156.21,272.28 L156.82,272.30 L157.43,272.33 L158.05,272.35 L158.66,272.37 L159.28,272.39 L159.90,272.41 L160.52,272.43 L161.14,272.44 L161.76,272.46 L162.39,272.47 L163.01,272.49 L163.64,272.50 L164.27,272.51 L164.90,272.52 L165.54,272.53 L166.17,272.53 L166.81,272.54 L167.44,272.54 L168.08,272.55 L168.72,272.55 L169.36,272.55 L170.01,272.55 L170.65,272.54 L171.30,272.54 L171.94,272.53 L172.59,272.53 L173.24,272.52 L173.90,272.51 L174.55,272.49 L175.21,272.48 L175.86,272.46 L176.52,272.45 L177.18,272.43 L177.84,272.41 L178.50,272.39 L179.17,272.37 L179.84,272.35 L180.50,272.32 L181.17,272.30 L181.84,272.27 L182.51,272.24 L183.19,272.21 L183.86,272.18 L184.54,272.15 L185.22,272.12 L185.90,272.09 L186.58,272.06 L187.26,272.03 L187.94,272.00 L188.63,271.97 L189.32,271.93 L190.01,271.90 L190.70,271.87 L191.39,271.84 L192.08,271.82 L192.78,271.79 L193.47,271.76 L194.17,271.74 L194.87,271.72 L195.57,271.69 L196.27,271.67 L196.98,271.65 L197.68,271.64 L198.39,271.62 L199.10,271.60 L199.81,271.58 L200.52,271.57 L201.23,271.56 L201.95,271.54 L202.66,271.53 L203.38,271.51 L204.10,271.50 L204.82,271.49 L205.54,271.48 L206.27,271.46 L206.99,271.45 L207.72,271.44 L208.45,271.43 L209.17,271.42 L209.91,271.40 L210.64,271.39 L211.37,271.38 L212.11,271.37 L212.85,271.36 L213.58,271.34 L214.33,271.33 L215.07,271.32 L215.81,271.31 L216.56,271.30 L217.30,271.29 L218.05,271.28 L218.80,271.26 L219.55,271.25 L220.30,271.24 L221.06,271.23 L221.81,271.22 L222.57,271.21 L223.33,271.20 L224.09,271.19 L224.85,271.18 L225.61,271.17 L226.38,271.16 L227.14,271.15 L227.91,271.14 L228.68,271.13 L229.45,271.12 L230.22,271.11 L231.00,271.10 L231.77,271.09 L232.55,271.08 L233.33,271.07 L234.11,271.06 L234.89,271.05 L235.67,271.04 L236.46,271.03 L237.24,271.02 L238.03,271.01 L238.82,271.00 L239.61,270.99 L240.40,270.98 L241.19,270.98 L241.99,270.97 L242.79,270.96 L243.58,270.95 L244.38,270.94 L245.18,270.93 L245.99,270.93 L246.79,270.92 L247.60,270.91 L248.40,270.90 L249.21,270.89 L250.02,270.89 L250.83,270.88 L251.65,270.87 L252.46,270.86 L253.28,270.86 L254.10,270.85 L254.92,270.84 L255.74,270.83 L256.56,270.83 L257.38,270.82 L258.21,270.81 L259.03,270.81 L259.86,270.80 L260.69,270.79 L261.52,270.79 L262.36,270.78 L263.19,270.77 L264.03,270.77 L264.87,270.76 L265.70,270.75 L266.54,270.75 L267.39,270.74 L268.23,270.74 L269.08,270.73 L269.92,270.73 L270.77,270.72 L271.62,270.71 L272.47,270.71 L273.32,270.70 L274.18,270.70 L275.03,270.69 L275.89,270.69 L276.75,270.68 L277.61,270.68 L278.47,270.67 L279.34,270.67 L280.20,270.66 L281.07,270.66 L281.93,270.65 L282.80,270.65 L283.67,270.64 L284.55,270.64 L285.42,270.63 L286.30,270.63 L287.17,270.62 L288.05,270.62 L288.93,270.61 L289.81,270.61 L290.70,270.61 L291.58,270.60 L292.47,270.60 L293.36,270.59 L294.24,270.59 L295.13,270.58 L296.03,270.58 L296.92,270.58 L297.82,270.57 L298.71,270.57 L299.61,270.56 L300.51,270.56 L301.41,270.56 L302.31,270.55 L303.22,270.55 L304.13,270.55 L305.03,270.54 L305.94,270.54 L306.85,270.53 L307.76,270.53 L308.68,270.53 L309.59,270.52 L310.51,270.52 L311.43,270.52 L312.35,270.51 L313.27,270.51 L314.19,270.51 L315.11,270.50 L316.04,270.50 L316.97,270.50 L317.90,270.49 L318.83,270.49 L319.76,270.49 L320.69,270.48 L321.63,270.48 L322.56,270.48 L323.50,270.47 L324.44,270.47 L325.38,270.47 L326.32,270.46 L327.27,270.46 L328.21,270.46 L329.16,270.45 L330.11,270.45 L331.06,270.45 L332.01,270.44 L332.96,270.44 L333.91,270.44 L334.87,270.43 L335.83,270.43 L336.79,270.43 L337.75,270.42 L338.71,270.42 L339.67,270.42 L340.64,270.41 L341.60,270.41 L342.57,270.40 L343.54,270.40 L344.51,270.40 L345.49,270.39 L346.46,270.39 L347.44,270.39 L348.41,270.38 L349.39,270.38 L350.37,270.38 L351.35,270.37 L352.34,270.37 L353.32,270.36 L354.31,270.36 L355.30,270.36 L356.29,270.35 L357.28,270.35 L358.27,270.34 L359.26,270.34 L360.26,270.34 L361.26,270.33 L362.25,270.33 L363.25,270.32 L364.26,270.32 L365.26,270.31 L366.26,270.31 L367.27,270.30 L368.28,270.30 L369.29,270.29 L370.30,270.29 L371.31,270.28 L372.32,270.28 L373.34,270.27 L374.35,270.27 L375.37,270.26 L376.39,270.26 L377.41,270.25 L378.44,270.25 L379.46,270.24 L380.49,270.24 L381.51,270.23 L382.54,270.23 L383.57,270.22 L384.61,270.21 L385.64,270.21 L386.67,270.20 L387.71,270.19 L388.75,270.19 L389.79,270.18 L390.83,270.18 L391.87,270.17 L392.92,270.16 L393.96,270.15 L395.01,270.15 L396.06,270.14 L397.11,270.13 L398.16,270.13 L399.21,270.12 L400.27,270.11 L401.32,270.10 L402.38,270.09 L403.44,270.09 L404.50,270.08" stroke="#00ff00" stroke-dasharray="5.8,6.07,0.9,6.08" stroke-dashoffset="-6.3"/>
<path d="M33.50,273.50 L33.50,273.49 L33.50,273.46 L33.51,273.42 L33.51,273.36 L33.52,273.30 L33.53,273.23 L33.54,273.15 L33.55,273.08 L33.56,273.00 L33.58,272.92 L33.59,272.84 L33.61,272.76 L33.63,272.68 L33.65,272.60 L33.67,272.52 L33.69,272.44 L33.72,272.36 L33.75,272.29 L33.77,272.21 L33.80,272.14 L33.83,272.06 L33.87,271.99 L33.90,271.92 L33.94,271.85 L33.97,271.77 L34.01,271.70 L34.05,271.63 L34.10,271.56 L34.14,271.48 L34.18,271.41 L34.23,271.34 L34.28,271.26 L34.33,271.19 L34.38,271.11 L34.43,271.04 L34.48,270.96 L34.54,270.88 L34.60,270.80 L34.65,270.72 L34.71,270.63 L34.78,270.55 L34.84,270.46 L34.90,270.37 L34.97,270.28 L35.04,270.18 L35.11,270.09 L35.18,269.99 L35.25,269.89 L35.32,269.78 L35.40,269.68 L35.47,269.57 L35.55,269.46 L35.63,269.34 L35.71,269.22 L35.80,269.10 L35.88,268.98 L35.97,268.85 L36.05,268.72" stroke="#00ff00" stroke-linecap="butt"/>
</g>
<g stroke="#000" fill="none">
<line x1="26" y1="273.12" x2="412" y2="273.12" stroke-width="0.6"/>
<line x1="33.45" y1="34" x2="33.45" y2="273.4" stroke-width="0.43"/>
<line x1="52.5" y1="273.2" x2="52.5" y2="269.90" stroke-width="0.41"/>
<line x1="70.5" y1="273.2" x2="70.5" y2="269.90" stroke-width="0.41"/>
<line x1="89.5" y1="273.2" x2="89.5" y2="269.90" stroke-width="0.41"/>
<line x1="107.7" y1="273.2" x2="107.7" y2="268.40" stroke-width="0.41"/>
<line x1="126.5" y1="273.2" x2="126.5" y2="269.90" stroke-width="0.41"/>
<line x1="144.5" y1="273.2" x2="144.5" y2="269.90" stroke-width="0.41"/>
<line x1="163.5" y1="273.2" x2="163.5" y2="269.90" stroke-width="0.41"/>
<line x1="181.9" y1="273.2" x2="181.9" y2="268.40" stroke-width="0.41"/>
<line x1="200.5" y1="273.2" x2="200.5" y2="269.90" stroke-width="0.41"/>
<line x1="219.5" y1="273.2" x2="219.5" y2="269.90" stroke-width="0.41"/>
<line x1="237.5" y1="273.2" x2="237.5" y2="269.90" stroke-width="0.41"/>
<line x1="256.1" y1="273.2" x2="256.1" y2="268.40" stroke-width="0.41"/>
<line x1="274.5" y1="273.2" x2="274.5" y2="269.90" stroke-width="0.41"/>
<line x1="293.5" y1="273.2" x2="293.5" y2="269.90" stroke-width="0.41"/>
<line x1="311.5" y1="273.2" x2="311.5" y2="269.90" stroke-width="0.41"/>
<line x1="330.3" y1="273.2" x2="330.3" y2="268.40" stroke-width="0.41"/>
<line x1="348.5" y1="273.2" x2="348.5" y2="269.90" stroke-width="0.41"/>
<line x1="367.5" y1="273.2" x2="367.5" y2="269.90" stroke-width="0.41"/>
<line x1="385.5" y1="273.2" x2="385.5" y2="269.90" stroke-width="0.41"/>
<line x1="404.5" y1="273.2" x2="404.5" y2="268.40" stroke-width="0.41"/>
<line x1="33.45" y1="263.65" x2="36.85" y2="263.65" stroke-width="0.41"/>
<line x1="33.45" y1="254.10" x2="36.85" y2="254.10" stroke-width="0.41"/>
<line x1="33.45" y1="244.56" x2="36.85" y2="244.56" stroke-width="0.41"/>
<line x1="33.45" y1="235.01" x2="36.85" y2="235.01" stroke-width="0.41"/>
<line x1="33.45" y1="225.50" x2="38.45" y2="225.50" stroke-width="0.41"/>
<line x1="33.45" y1="215.91" x2="36.85" y2="215.91" stroke-width="0.41"/>
<line x1="33.45" y1="206.36" x2="36.85" y2="206.36" stroke-width="0.41"/>
<line x1="33.45" y1="196.82" x2="36.85" y2="196.82" stroke-width="0.41"/>
<line x1="33.45" y1="187.27" x2="36.85" y2="187.27" stroke-width="0.41"/>
<line x1="33.45" y1="177.50" x2="38.45" y2="177.50" stroke-width="0.41"/>
<line x1="33.45" y1="168.17" x2="36.85" y2="168.17" stroke-width="0.41"/>
<line x1="33.45" y1="158.62" x2="36.85" y2="158.62" stroke-width="0.41"/>
<line x1="33.45" y1="149.08" x2="36.85" y2="149.08" stroke-width="0.41"/>
<line x1="33.45" y1="139.53" x2="36.85" y2="139.53" stroke-width="0.41"/>
<line x1="33.45" y1="129.50" x2="38.45" y2="129.50" stroke-width="0.41"/>
<line x1="33.45" y1="120.43" x2="36.85" y2="120.43" stroke-width="0.41"/>
<line x1="33.45" y1="110.88" x2="36.85" y2="110.88" stroke-width="0.41"/>
<line x1="33.45" y1="101.34" x2="36.85" y2="101.34" stroke-width="0.41"/>
<line x1="33.45" y1="91.79" x2="36.85" y2="91.79" stroke-width="0.41"/>
<line x1="33.45" y1="82.50" x2="38.45" y2="82.50" stroke-width="0.41"/>
<line x1="33.45" y1="72.69" x2="36.85" y2="72.69" stroke-width="0.41"/>
<line x1="33.45" y1="63.14" x2="36.85" y2="63.14" stroke-width="0.41"/>
<line x1="33.45" y1="53.60" x2="36.85" y2="53.60" stroke-width="0.41"/>
<line x1="33.45" y1="44.05" x2="36.85" y2="44.05" stroke-width="0.41"/>
<line x1="33.45" y1="34.50" x2="38.45" y2="34.50" stroke-width="0.41"/>
</g>
<g fill="#000" font-family="'Liberation Serif', serif" font-size="13">
<text x="0.3" y="230">0.005</text>
<text x="0.3" y="182.2">0.010</text>
<text x="0.3" y="134.5">0.015</text>
<text x="0.3" y="86.7">0.020</text>
<text x="0.3" y="39">0.025</text>
<text x="33.8" y="289" text-anchor="middle">0</text>
<text x="107.9" y="289" text-anchor="middle">2</text>
<text x="182.2" y="289" text-anchor="middle">4</text>
<text x="256.5" y="289" text-anchor="middle">6</text>
<text x="330.6" y="289" text-anchor="middle">8</text>
<text x="405.1" y="289" text-anchor="middle">10</text>
<text x="424" y="278.7" font-style="italic">q</text>
<text x="430.7" y="273.1" font-size="9.5">2</text>
<text x="3.3" y="16.8" font-style="italic">A</text>
<text x="13" y="11.1" font-size="9">1/2</text>
<text x="16.2" y="20.75" font-size="10" font-style="italic">B</text>
<text x="22.1" y="22.4" font-size="8">0</text>
<text x="27.8" y="20.75" font-size="10" font-style="italic">B</text>
<text x="34.2" y="22.4" font-size="8">2</text>
<text x="39" y="22.9" font-size="8" font-style="italic">j</text>
<text x="43" y="16.8">(</text>
<text x="47.3" y="16.8" font-style="italic">q</text>
<text x="54.2" y="10.8" font-size="9.5">2</text>
<text x="59.2" y="16.8">)</text>
</g>
</svg>
</body></html>
